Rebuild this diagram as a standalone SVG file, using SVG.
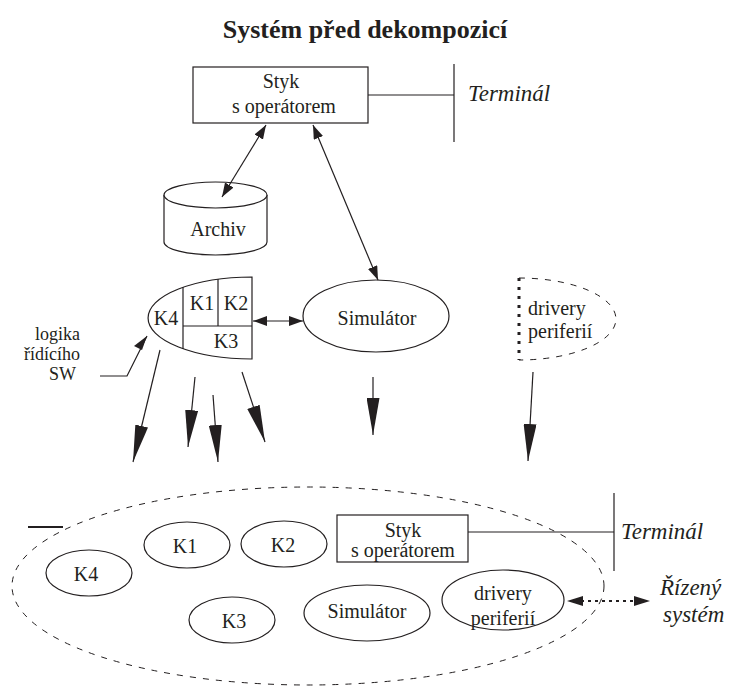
<svg xmlns="http://www.w3.org/2000/svg" width="730" height="686" viewBox="0 0 730 686" font-family="'Liberation Serif', 'Times New Roman', serif">
  <style>
    text { font-family: "Liberation Serif", "Times New Roman", serif; fill: #231f20; }
    .t { font-size: 20px; }
    .s { font-size: 18px; }
    .c { text-anchor: middle; }
    .it { font-style: italic; font-size: 23px; }
    .title { font-weight: bold; font-size: 26px; text-anchor: middle; }
    .ln { fill: none; stroke: #231f20; stroke-width: 1.2; }
    .sh { fill: #ffffff; stroke: #231f20; stroke-width: 1.2; }
    .dash { fill: none; stroke: #231f20; stroke-width: 1; stroke-dasharray: 6 7; }
    .big { fill: none; stroke: #231f20; stroke-width: 1.2; marker-end: url(#bigHead); }
    .both { fill: none; stroke: #231f20; stroke-width: 1.2; marker-start: url(#smallHead); marker-end: url(#smallHead); }
  </style>
  <defs>
    <marker id="bigHead" viewBox="0 0 37 13" refX="37" refY="6.5" markerWidth="37" markerHeight="13" markerUnits="userSpaceOnUse" orient="auto">
      <path d="M0,0 L37,6.5 L0,13 Z" fill="#231f20"/>
    </marker>
    <marker id="smallHead" viewBox="0 0 14 10" refX="14" refY="5" markerWidth="14" markerHeight="10" markerUnits="userSpaceOnUse" orient="auto-start-reverse">
      <path d="M0,0 L14,5 L0,10 Z" fill="#231f20"/>
    </marker>
  </defs>

  <text class="title" x="365" y="38">Systém před dekompozicí</text>

  <!-- upper part: system before decomposition -->
  <g id="styk-top">
    <rect class="sh" x="193" y="67" width="175" height="56"/>
    <text class="t c" x="281" y="88">Styk</text>
    <text class="t c" x="284" y="113">s operátorem</text>
  </g>
  <g id="terminal-top">
    <line class="ln" x1="454" y1="64" x2="454" y2="142"/>
    <text class="it" x="468" y="101">Terminál</text>
  </g>
  <g id="archiv">
    <path class="sh" d="M164,195 L164,242 A51.5,13 0 0 0 267,242 L267,195"/>
    <ellipse class="sh" cx="215.5" cy="195" rx="51.5" ry="13"/>
    <text class="t c" x="218" y="236">Archiv</text>
  </g>
  <g id="simulator-top">
    <ellipse class="sh" cx="376" cy="316" rx="73" ry="36"/>
    <text class="t c" x="377" y="325">Simulátor</text>
  </g>
  <g id="logika">
    <path class="sh" d="M252,277 A104,41 0 0 0 252,359 Z"/>
    <line class="ln" x1="183" y1="287" x2="183" y2="349"/>
    <line class="ln" x1="218" y1="279" x2="218" y2="326"/>
    <line class="ln" x1="183" y1="326" x2="252" y2="326"/>
    <text class="t c" x="202" y="310">K1</text>
    <text class="t c" x="236" y="310">K2</text>
    <text class="t c" x="166" y="325">K4</text>
    <text class="t c" x="226" y="348">K3</text>
  </g>
  <g id="logika-label">
    <text class="s" x="80" y="340" text-anchor="end">logika</text>
    <text class="s" x="80" y="360" text-anchor="end">řídícího</text>
    <text class="s" x="76" y="380" text-anchor="end">SW</text>
  </g>
  <g id="drivery-top">
    <path class="dash" d="M519,278 A97,41 0 0 1 519,360"/>
    <line x1="519" y1="278" x2="519" y2="360" stroke="#231f20" stroke-width="3" stroke-dasharray="3 6"/>
    <text class="t" x="528" y="315">drivery</text>
    <text class="t" x="528" y="338">periferií</text>
  </g>

  <!-- lower part: decomposed system -->
  <g id="system-boundary">
    <ellipse class="dash" cx="308" cy="586" rx="296" ry="99"/>
    <line x1="28" y1="527" x2="63" y2="527" stroke="#231f20" stroke-width="2"/>
  </g>
  <g id="k4"><ellipse class="sh" cx="89" cy="573" rx="43" ry="23"/><text class="t c" x="86" y="581">K4</text></g>
  <g id="k1"><ellipse class="sh" cx="187" cy="545" rx="43" ry="23"/><text class="t c" x="185" y="553">K1</text></g>
  <g id="k2"><ellipse class="sh" cx="284" cy="544" rx="43" ry="23"/><text class="t c" x="283" y="552">K2</text></g>
  <g id="k3"><ellipse class="sh" cx="232" cy="620" rx="43" ry="23"/><text class="t c" x="234" y="628">K3</text></g>
  <g id="styk-bottom">
    <rect class="sh" x="337" y="515" width="131" height="47"/>
    <text class="t c" x="403" y="537">Styk</text>
    <text class="t c" x="403" y="557">s operátorem</text>
  </g>
  <g id="terminal-bottom">
    <line class="ln" x1="614" y1="493" x2="614" y2="571"/>
    <text class="it" x="621" y="539">Terminál</text>
  </g>
  <g id="simulator-bottom">
    <ellipse class="sh" cx="367" cy="613" rx="63" ry="28"/>
    <text class="t c" x="367" y="618">Simulátor</text>
  </g>
  <g id="drivery-bottom">
    <ellipse class="sh" cx="503" cy="600" rx="61" ry="30"/>
    <text class="t c" x="503" y="600">drivery</text>
    <text class="t c" x="503" y="625">periferií</text>
  </g>
  <g id="rizeny-system">
    <text class="it" x="660" y="595">Řízený</text>
    <text class="it" x="663" y="622">systém</text>
  </g>

  <g id="connectors">
    <line class="ln" x1="368" y1="95" x2="454" y2="95"/>
    <line class="both" x1="266" y1="125" x2="222" y2="197"/>
    <line class="both" x1="313" y1="125" x2="378" y2="280"/>
    <line class="both" x1="253" y1="321" x2="303" y2="321"/>
    <polyline class="ln" points="100,376 127,376 147,336"/>
    <path d="M147,336 L134,346 L142,350 Z" fill="#231f20"/>
    <line class="ln" x1="468" y1="532" x2="614" y2="532"/>
    <line x1="574" y1="601" x2="640" y2="601" stroke="#231f20" stroke-width="2" stroke-dasharray="3 4"/>
    <path d="M567,601 L583,596 L583,606 Z" fill="#231f20"/>
    <path d="M650,601 L634,596 L634,606 Z" fill="#231f20"/>
    <line class="big" x1="160" y1="350" x2="133" y2="462"/>
    <line class="big" x1="195" y1="377" x2="188" y2="447"/>
    <line class="big" x1="213" y1="395" x2="218" y2="462"/>
    <line class="big" x1="242" y1="372" x2="265" y2="442"/>
    <line class="big" x1="373" y1="377" x2="373" y2="435"/>
    <line class="big" x1="533" y1="372" x2="528" y2="461"/>
  </g>
</svg>
